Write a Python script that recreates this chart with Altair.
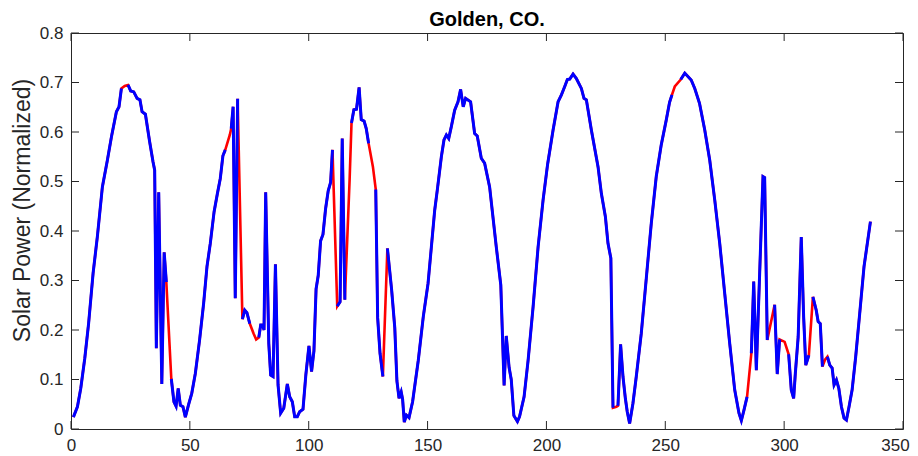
import altair as alt
import pandas as pd

# ---- data (x, normalized solar power) ----
x_vals = [1.0, 2.7, 4.1, 5.8, 7.4, 9.3, 11.1, 13.2, 15.3, 17.0, 19.1, 20.2, 21.2, 22.6, 24.0,
          25.1, 26.4, 27.8, 29.0, 29.9, 31.3, 33.1, 34.5, 35.2, 35.9, 36.9, 38.2, 39.2, 40.1,
          42.2, 43.3, 44.2, 45.1, 46.0, 47.1, 48.1, 49.5, 50.8, 52.3, 54.1, 55.8, 57.2, 58.6,
          60.2, 61.6, 62.8, 63.9, 64.9, 66.8, 67.4, 68.2, 69.1, 70.1, 72.1, 73.1, 74.0, 75.2,
          76.8, 77.9, 79.0, 79.8, 80.6, 81.2, 81.9, 83.2, 84.0, 85.0, 86.0, 87.1, 88.2, 89.5,
          91.0, 92.0, 93.1, 94.1, 95.2, 96.2, 97.6, 98.8, 100.1, 101.2, 102.2, 103.1, 104.0,
          105.0, 106.0, 107.1, 108.2, 109.2, 110.0, 112.0, 113.2, 114.1, 115.2, 117.2, 118.0,
          119.0, 120.1, 121.2, 122.1, 123.3, 124.2, 125.2, 127.0, 128.2, 129.0, 130.0, 131.2,
          133.1, 134.9, 136.2, 137.1, 138.0, 138.9, 139.5, 140.2, 141.1, 142.2, 143.7, 146.1,
          148.2, 150.2, 151.6, 153.0, 154.1, 155.8, 156.9, 157.9, 158.9, 160.0, 161.4, 162.8,
          163.9, 165.0, 166.0, 168.1, 169.8, 170.9, 172.6, 174.0, 176.1, 178.9, 180.8, 182.2,
          183.1, 184.3, 185.2, 186.3, 187.8, 188.7, 190.6, 192.3, 194.4, 196.5, 198.6, 200.5,
          202.8, 204.9, 206.3, 207.7, 208.8, 209.8, 211.2, 212.6, 214.7, 215.8, 216.8, 218.9,
          221.7, 223.1, 224.8, 225.9, 227.1, 228.0, 229.4, 230.1, 231.2, 232.2, 233.2, 234.0,
          235.0, 236.4, 237.8, 239.9, 242.0, 244.1, 246.2, 248.3, 250.4, 251.8, 252.8, 254.0,
          256.5, 258.2, 260.9, 262.4, 264.4, 266.6, 268.7, 270.8, 272.9, 275.0, 277.1, 279.2,
          281.0, 282.0, 283.1, 284.4, 286.2, 287.2, 288.3, 291.1, 291.8, 292.9, 296.0, 297.1,
          298.1, 300.2, 301.9, 303.0, 304.0, 304.7, 305.9, 307.2, 308.2, 309.1, 310.4, 312.1,
          313.5, 314.3, 315.2, 316.1, 317.2, 318.2, 319.2, 320.2, 321.0, 322.0, 323.0, 324.1,
          325.2, 326.2, 327.3, 328.6, 330.1, 331.8, 333.6, 336.3]
y_vals = [0.024, 0.045, 0.082, 0.143, 0.213, 0.315, 0.389, 0.489, 0.543, 0.590, 0.641, 0.651, 0.688, 0.693, 0.695,
          0.683, 0.681, 0.668, 0.665, 0.641, 0.636, 0.580, 0.540, 0.523, 0.163, 0.478, 0.091, 0.357, 0.297,
          0.101, 0.055, 0.046, 0.082, 0.048, 0.045, 0.024, 0.050, 0.072, 0.112, 0.180, 0.254, 0.328, 0.375,
          0.439, 0.476, 0.506, 0.552, 0.564, 0.594, 0.607, 0.651, 0.264, 0.667, 0.222, 0.240, 0.235, 0.213,
          0.193, 0.181, 0.185, 0.210, 0.210, 0.200, 0.478, 0.173, 0.109, 0.106, 0.333, 0.089, 0.032, 0.042,
          0.091, 0.065, 0.055, 0.025, 0.025, 0.035, 0.040, 0.110, 0.168, 0.116, 0.158, 0.283, 0.310,
          0.380, 0.393, 0.445, 0.481, 0.498, 0.564, 0.248, 0.257, 0.587, 0.261, 0.503, 0.618,
          0.645, 0.646, 0.690, 0.625, 0.622, 0.607, 0.577, 0.530, 0.484, 0.225, 0.153, 0.106,
          0.365, 0.280, 0.205, 0.097, 0.062, 0.075, 0.060, 0.014, 0.028, 0.023, 0.055, 0.139,
          0.227, 0.294, 0.368, 0.442, 0.483, 0.550, 0.584, 0.594, 0.587, 0.611, 0.644, 0.661,
          0.686, 0.651, 0.668, 0.661, 0.597, 0.592, 0.547, 0.537, 0.489, 0.368, 0.291, 0.088,
          0.188, 0.124, 0.100, 0.027, 0.015, 0.025, 0.065, 0.139, 0.247, 0.368, 0.463, 0.535,
          0.604, 0.661, 0.675, 0.692, 0.706, 0.707, 0.717, 0.708, 0.688, 0.668, 0.665, 0.604,
          0.530, 0.476, 0.429, 0.375, 0.345, 0.043, 0.045, 0.047, 0.171, 0.106, 0.062, 0.035,
          0.011, 0.052, 0.106, 0.193, 0.304, 0.415, 0.510, 0.574, 0.624, 0.660, 0.675, 0.692,
          0.706, 0.719, 0.705, 0.688, 0.658, 0.604, 0.543, 0.463, 0.375, 0.274, 0.173, 0.079,
          0.032, 0.017, 0.038, 0.065, 0.153, 0.298, 0.119, 0.510, 0.508, 0.180, 0.251, 0.111,
          0.181, 0.176, 0.151, 0.079, 0.062, 0.112, 0.186, 0.388, 0.227, 0.129, 0.149, 0.267,
          0.240, 0.217, 0.213, 0.126, 0.140, 0.146, 0.129, 0.123, 0.089, 0.099, 0.082, 0.045,
          0.022, 0.018, 0.045, 0.079, 0.146, 0.234, 0.328, 0.419]

# stretches where only the red series is visible (blue series has no line there)
blue_gaps = [(21.2, 24.0), (40.1, 42.2), (64.9, 67.4), (70.1, 72.1), (75.2, 79.0),
             (110.0, 112.0), (115.2, 118.0), (125.2, 128.2), (131.2, 133.1),
             (228.0, 230.1), (252.8, 256.5), (284.4, 286.2), (292.9, 296.0),
             (298.1, 301.9), (310.4, 312.1), (316.1, 318.2)]

x_ticks = [0, 50, 100, 150, 200, 250, 300, 350]
y_ticks = [0, 0.1, 0.2, 0.3, 0.4, 0.5, 0.6, 0.7, 0.8]
title_text = ["Golden, CO."]
y_title = "Solar Power (Normalized)"

W, H = 832, 396
TICK = 8
FONT = "Liberation Sans"
AXC = "#262626"

red_df = pd.DataFrame({"x": x_vals, "y": y_vals})

rows = []
seg = 0
for xv, yv in zip(x_vals, y_vals):
    if any(a < xv < b for a, b in blue_gaps):
        continue
    is_start = any(abs(xv - a) < 1e-9 for a, b in blue_gaps)
    rows.append({"x": xv, "y": yv, "seg": seg})
    if is_start:
        seg += 1
blue_df = pd.DataFrame(rows)

xs = alt.Scale(domain=[0, 350], nice=False, zero=False)
ys = alt.Scale(domain=[0, 0.8], nice=False, zero=False)

x_axis = alt.Axis(values=x_ticks, format="d", title=None, grid=False, domain=False,
                  ticks=False, tickSize=0, labelFontSize=17, labelFont=FONT,
                  labelColor=AXC, labelPadding=8, labelFlush=False, labelOverlap=False,
                  labelOffset={"condition": {"test": "datum.value == 350", "value": -8},
                               "value": 0})
y_axis = alt.Axis(values=y_ticks, format=".1~f", title=y_title,
                  grid=False, domain=False, ticks=False, tickSize=0, labelFontSize=17,
                  labelFont=FONT, labelColor=AXC, labelPadding=8, labelFlush=False,
                  labelOverlap=False, titleFont=FONT,
                  titleFontSize=23, titleFontWeight="normal", titleColor=AXC,
                  titleAngle=270, titleAlign="center", titleBaseline="middle",
                  titleX=-49, titleY=177)

X = alt.X("x:Q", scale=xs, axis=x_axis, title=None)
Y = alt.Y("y:Q", scale=ys, axis=y_axis, title=y_title)
XT = alt.X("t:Q", scale=xs, axis=x_axis, title=None)
YT = alt.Y("t:Q", scale=ys, axis=y_axis, title=y_title)

red = alt.Chart(red_df).mark_line(color="#FF0000", strokeWidth=2.6).encode(
    x=X, y=Y, order="x:Q",
)
blue = alt.Chart(blue_df).mark_line(color="#0000FF", strokeWidth=3).encode(
    x=X, y=Y, detail="seg:N", order="x:Q",
)

xt_df = pd.DataFrame({"t": x_ticks})
yt_df = pd.DataFrame({"t": y_ticks})
tick_style = dict(color=AXC, strokeWidth=1)
t_bottom = alt.Chart(xt_df).mark_rule(**tick_style).encode(
    x=XT, y=alt.value(H), y2=alt.value(H - TICK))
t_top = alt.Chart(xt_df).mark_rule(**tick_style).encode(
    x=XT, y=alt.value(0), y2=alt.value(TICK))
t_left = alt.Chart(yt_df).mark_rule(**tick_style).encode(
    y=YT, x=alt.value(0), x2=alt.value(TICK))
t_right = alt.Chart(yt_df).mark_rule(**tick_style).encode(
    y=YT, x=alt.value(W), x2=alt.value(W - TICK))

title = alt.Chart(pd.DataFrame({"t": title_text})).mark_text(
    font=FONT, fontSize=20, fontWeight="bold", color="#000000",
    align="center", baseline="alphabetic",
).encode(text="t:N", x=alt.value(W / 2), y=alt.value(-7))

chart = alt.layer(red, blue, t_bottom, t_top, t_left, t_right, title).properties(
    width=W, height=H,
    autosize=alt.AutoSizeParams(type="none"),
    padding={"left": 63, "top": 25, "right": 7, "bottom": 25},
).configure_view(stroke=AXC, strokeWidth=1)

chart.save("out.html", embed_options={"renderer": "svg", "actions": False})
